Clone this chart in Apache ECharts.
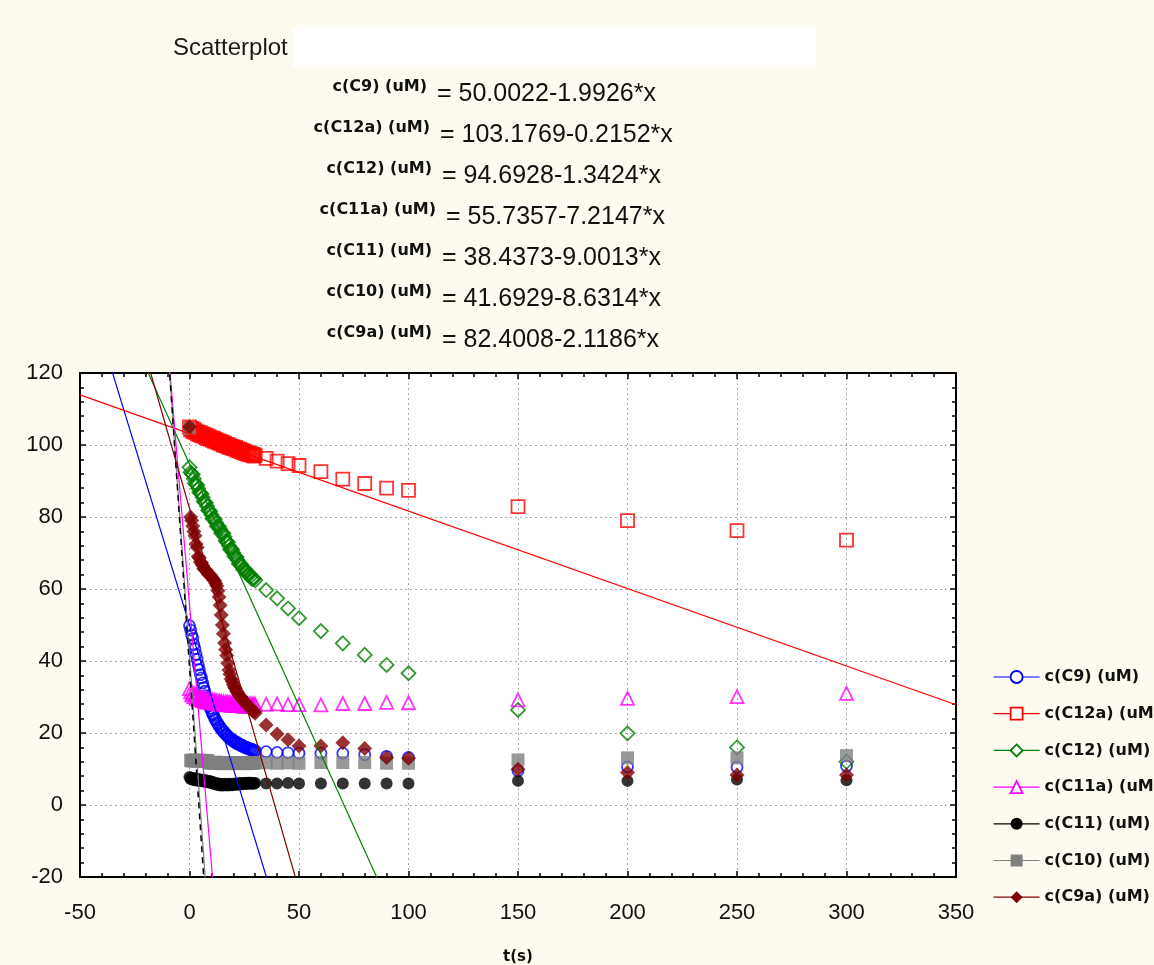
<!DOCTYPE html>
<html><head><meta charset="utf-8">
<script src="https://cdn.jsdelivr.net/npm/echarts/dist/echarts.min.js"></script>
<style>html,body{margin:0;padding:0;background:#fdfbef;}#c{width:1154px;height:965px;}</style>
</head><body><div id="c"></div>
<script>
// ---------- DATA ----------
const seriesNames = ['c(C9) (uM)', 'c(C12a) (uM)', 'c(C12) (uM)', 'c(C11a) (uM)', 'c(C11) (uM)', 'c(C10) (uM)', 'c(C9a) (uM)'];
const tSec = [0,0.5,1,1.5,2,2.5,3,3.5,4,4.5,
              5,5.5,6,6.5,7,7.5,8,8.5,9,9.5,
              10,10.5,11,11.5,12,12.5,13,13.5,14,14.5,
              15,15.5,16,16.5,17,17.5,18,18.5,19,19.5,
              20,20.5,21,21.5,22,22.5,23,23.5,24,24.5,
              25,25.5,26,26.5,27,27.5,28,28.5,29,29.5,
              30,35,40,45,50,60,70,80,90,100,150,200,250,300];
const cC9 = [49.8,48.6,47.2,46.3,44.6,43.4,41.8,40.5,38.9,37.6,
             36.2,35.3,33.9,32.6,31.6,30.4,29.6,28.4,27.6,26.9,
             26.1,25.3,24.9,24.0,23.7,22.9,22.6,21.9,21.7,21.0,
             20.9,20.3,20.2,19.6,19.5,19.0,18.9,18.4,18.4,17.9,
             18.0,17.5,17.6,17.1,17.3,16.8,16.9,16.5,16.6,16.2,
             16.3,15.9,16.1,15.7,15.8,15.4,15.6,15.2,15.4,15.0,
             15.1,14.8,14.6,14.5,14.4,14.4,14.4,14.0,13.5,13.2,9.5,10.6,10.5,10.8];
const cC12a = [105.0,104.2,104.6,103.7,104.3,103.5,103.9,103.1,103.6,102.9,
               103.4,102.6,103.1,102.4,102.9,102.0,102.6,101.8,102.3,101.6,
               102.0,101.3,101.8,101.0,101.5,100.8,101.2,100.5,101.0,100.3,
               100.8,100.0,100.5,99.8,100.2,99.5,100.0,99.3,99.7,99.1,
               99.5,98.9,99.3,98.6,99.0,98.4,98.8,98.2,98.5,97.9,
               98.3,97.7,98.0,97.5,97.8,97.3,97.6,97.1,97.4,96.9,
               97.2,96.3,95.5,94.8,94.3,92.6,90.5,89.3,88.0,87.4,82.9,79.0,76.2,73.6];
const cC12 = [93.8,92.4,92.0,91.8,90.6,89.4,89.0,88.9,87.9,86.9,
              86.6,86.4,85.5,84.4,84.1,83.9,83.0,81.9,81.8,81.5,
              80.6,79.6,79.6,79.4,78.5,77.4,77.5,77.3,76.6,75.5,
              75.6,75.4,74.5,73.4,73.2,73.0,72.0,71.0,71.2,70.9,
              70.1,69.1,69.0,68.8,68.0,67.0,67.0,66.9,66.2,65.4,
              65.5,65.4,64.8,64.0,64.0,64.1,63.5,62.8,62.9,62.9,
              62.4,59.7,57.4,54.6,51.9,48.3,44.9,41.7,38.9,36.6,26.4,19.9,16.0,12.0];
const cC11a = [32.3,31.4,30.6,31.2,30.1,30.8,29.7,30.5,29.4,30.2,
               29.2,30.0,29.0,29.8,28.8,29.6,28.6,29.5,28.5,29.3,
               28.4,29.2,28.3,29.1,28.2,29.0,28.1,28.9,28.0,28.8,
               28.0,28.7,27.9,28.7,27.8,28.6,27.8,28.6,27.7,28.5,
               27.7,28.5,27.6,28.4,27.6,28.4,27.6,28.3,27.5,28.3,
               27.5,28.2,27.5,28.2,27.4,28.2,27.5,28.1,27.6,28.1,
               27.9,28.0,28.1,27.9,27.9,27.8,28.2,28.2,28.5,28.4,29.2,29.6,30.1,31.0];
const cC11 = [7.8,7.2,7.6,7.0,7.5,6.9,7.3,6.8,7.2,6.7,
              7.1,6.6,7.0,6.5,6.9,6.4,6.8,6.3,6.7,6.2,
              6.5,6.0,6.3,5.8,6.1,5.6,6.0,5.5,5.9,5.4,
              5.8,5.4,5.9,5.5,5.8,5.4,5.9,5.5,5.8,5.5,
              5.9,5.6,6.0,5.6,6.0,5.7,6.1,5.7,6.1,5.8,
              6.1,5.8,6.2,5.9,6.2,5.9,6.2,5.9,6.1,5.9,
              6.1,6.0,6.0,6.1,6.0,6.0,6.0,6.0,6.0,6.0,6.7,6.7,7.1,6.9];
const cC10 = [104.6,12.4,12.2,12.5,12.3,12.2,12.5,12.3,12.4,12.2,
              12.3,12.4,12.1,12.3,12.2,12.4,12.1,12.3,11.8,11.7,
              11.6,11.8,11.7,11.6,11.9,11.7,11.6,11.8,11.7,11.5,
              11.5,11.7,11.8,11.6,11.6,11.8,11.7,11.5,11.6,11.7,
              11.8,11.6,11.5,11.7,11.7,11.6,11.6,11.8,11.8,11.6,
              11.7,11.5,11.6,11.7,11.5,11.8,11.7,11.6,11.6,11.7,
              11.8,11.7,11.6,11.7,11.6,11.8,11.8,11.8,11.6,11.6,12.5,13.1,13.1,13.7];
const cC9a = [105.0,80.0,79.0,77.5,76.0,74.8,72.5,71.5,69.0,68.6,
              67.5,67.2,66.5,65.6,65.5,65.3,64.8,64.2,64.0,63.9,
              63.5,63.0,62.5,62.2,61.5,60.8,59.5,57.8,55.5,52.8,
              50.0,47.6,45.0,43.2,41.5,39.4,37.5,36.3,35.0,34.4,
              33.5,32.8,32.3,31.6,31.2,30.6,30.2,29.9,29.5,29.0,
              28.8,28.3,28.0,27.7,27.3,27.1,26.8,26.4,26.2,25.9,
              25.5,22.2,19.7,18.1,16.4,16.4,17.3,15.7,13.2,13.0,9.9,9.0,8.3,8.3];
const intercepts = [50.0022, 103.1769, 94.6928, 55.7357, 38.4373, 41.6929, 82.4008];
const slopes = [-1.9926, -0.2152, -1.3424, -7.2147, -9.0013, -8.6314, -2.1186];
const xTicks = {min: -50, max: 350, step: 50};
const yTicks = {min: -20, max: 120, step: 20};
const allValues = [cC9, cC12a, cC12, cC11a, cC11, cC10, cC9a];

// ---------- STYLE ----------
const colors = ['#0000ff', '#ff0000', '#008000', '#ff00ff', '#000000', '#808080', '#800000'];
const symbols = ['circle', 'rect', 'diamond', 'triangle', 'circle', 'rect', 'diamond'];
const sizes = [11, 13, 14, 13, 12, 13, 15];
const hollow = [true, true, true, true, false, false, false];
const FONT = '"Liberation Sans", Arial, sans-serif';
const BOLD = '"DejaVu Sans", sans-serif';

const chart = echarts.init(document.getElementById('c'), null, {renderer: 'canvas'});

const scatterSeries = seriesNames.map((n, i) => ({
  type: 'scatter', name: n, z: 2,
  symbol: symbols[i], symbolSize: sizes[i],
  data: tSec.map((t, k) => [t, allValues[i][k]]),
  itemStyle: hollow[i]
    ? {color: 'rgba(0,0,0,0)', borderColor: colors[i], borderWidth: 1.8}
    : {color: colors[i], borderWidth: 0},
  emphasis: {disabled: true}
}));

const lineSeries = seriesNames.map((n, i) => ({
  type: 'line', name: n, z: 3, clip: true, showSymbol: false,
  symbol: symbols[i], symbolSize: sizes[i],
  data: [xTicks.min, xTicks.max].map(x => [x, intercepts[i] + slopes[i] * x]),
  lineStyle: {color: colors[i], width: i === 4 ? 1.5 : 1.2, type: i === 4 ? [6, 5] : 'solid'},
  itemStyle: hollow[i] ? {color: '#ffffff', borderColor: colors[i], borderWidth: 1.5} : {color: colors[i]},
  emphasis: {disabled: true}
}));
const lineOrder = [0, 1, 2, 3, 5, 4, 6];

const rowY = [94, 135, 176, 217, 258, 299, 340];
const eqX = [437, 440, 442, 446, 442, 442, 442];
const graphics = [
  {type: 'rect', shape: {x: 293, y: 27, width: 523, height: 40}, style: {fill: '#ffffff'}},
  {type: 'text', x: 173, y: 48, style: {text: 'Scatterplot', font: '24px ' + FONT, fill: '#1a1a1a', align: 'left', verticalAlign: 'middle'}}
];
seriesNames.forEach((n, i) => {
  const eq = '= ' + intercepts[i].toFixed(4) + '-' + Math.abs(slopes[i]).toFixed(4) + '*x';
  graphics.push({type: 'text', x: eqX[i] - 10, y: rowY[i] - 7,
    style: {text: n, font: 'bold 16px ' + BOLD, fill: '#111', align: 'right', verticalAlign: 'middle'}});
  graphics.push({type: 'text', x: eqX[i], y: rowY[i],
    style: {text: eq, font: '25px ' + FONT, fill: '#111', align: 'left', verticalAlign: 'middle'}});
});

function baseAxis(range, extra) {
  return Object.assign({
    type: 'value', min: range.min, max: range.max, interval: range.step,
    axisLine: {show: true, onZero: false, lineStyle: {color: '#000', width: 2}},
    axisTick: {show: true, inside: true, length: 6, lineStyle: {color: '#000', width: 1.5}},
    minorTick: {show: true, splitNumber: 5, length: 4, lineStyle: {color: '#000', width: 1.5}},
    splitLine: {show: false}, minorSplitLine: {show: false}
  }, extra);
}

const option = {
  backgroundColor: '#fdfbef',
  animation: false,
  grid: {left: 80, top: 373, width: 876, height: 504, show: true, backgroundColor: '#ffffff', borderWidth: 0, containLabel: false, outerBoundsMode: 'none'},
  xAxis: [
    baseAxis(xTicks, {position: 'bottom',
      axisLabel: {color: '#111', fontSize: 22, fontFamily: FONT, margin: 25},
      splitLine: {show: true, lineStyle: {color: '#a8a8a8', width: 1, type: [2, 3]}},
      name: 't(s)', nameLocation: 'middle', nameGap: 73,
      nameTextStyle: {color: '#111', fontSize: 15, fontWeight: 'bold', fontFamily: BOLD}}),
    baseAxis(xTicks, {position: 'top', axisLabel: {show: false}})
  ],
  yAxis: [
    baseAxis(yTicks, {position: 'left',
      axisLabel: {color: '#111', fontSize: 22, fontFamily: FONT, margin: 17},
      splitLine: {show: true, lineStyle: {color: '#a8a8a8', width: 1, type: [2, 3]}}}),
    baseAxis(yTicks, {position: 'right', axisLabel: {show: false}})
  ],
  legend: {
    orient: 'vertical', left: 988, top: 664, itemWidth: 46, itemHeight: 15, itemGap: 20.7,
    textStyle: {color: '#111', fontSize: 16, fontWeight: 'bold', fontFamily: BOLD},
    data: seriesNames.map((n, i) => ({
      name: n,
      itemStyle: hollow[i] ? {color: '#ffffff', borderColor: colors[i], borderWidth: 1.8} : {color: colors[i], borderWidth: 0},
      lineStyle: {color: colors[i], width: 1.2, type: 'solid'}
    })),
    selectedMode: false
  },
  graphic: graphics,
  series: lineOrder.map(i => lineSeries[i]).concat(scatterSeries)
};
chart.setOption(option);
</script></body></html>
